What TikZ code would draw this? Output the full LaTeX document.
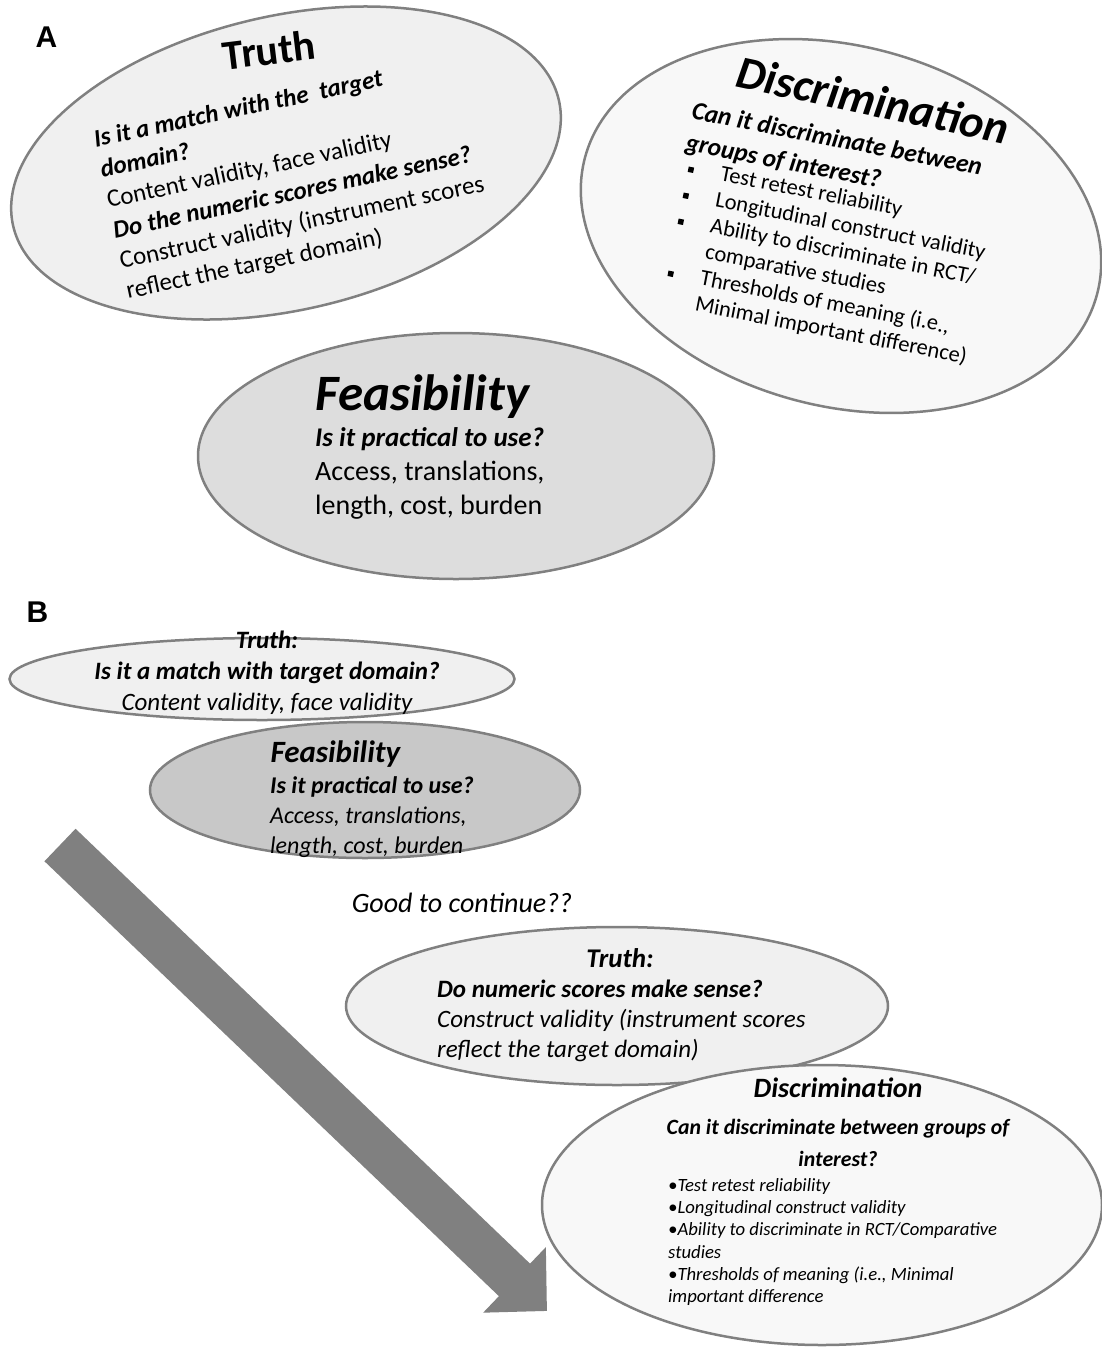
\documentclass[tikz,border=0pt]{standalone}
\usepackage{fontspec}
\setmainfont{Carlito}
\newfontfamily\panelfont{Liberation Sans}
\usetikzlibrary{positioning,shapes.geometric,arrows.meta}

\definecolor{lightfill}{HTML}{F0F0F0}
\definecolor{paperfill}{HTML}{F8F8F8}
\definecolor{midfill}{HTML}{DDDDDD}
\definecolor{darkfill}{HTML}{C8C8C8}
\definecolor{rimgray}{HTML}{808080}

\newcommand{\sqbullet}{\rule[0.25ex]{5.5pt}{5.5pt}}

\begin{document}
\begin{tikzpicture}[x=1pt,y=-1pt,
  bubble/.style={ellipse, draw=rimgray, line width=2.5pt, inner sep=0pt},
  panel/.style={font=\panelfont\fontsize{30}{32}\selectfont\bfseries, anchor=base},
  bodytext/.style={inner sep=0pt, align=left, anchor=north west},
  bigtitle/.style={font=\fontsize{42}{48}\selectfont\bfseries},
  bigital/.style={font=\fontsize{46}{50}\selectfont\bfseries\itshape},
  smalltitle/.style={font=\fontsize{28}{30}\selectfont\bfseries\itshape}
]
\useasboundingbox (0,0) rectangle (1101,1347);

% panel A
\node[panel] (labA) at (46.5,47) {A};
\node[bubble, fill=lightfill, minimum width=560pt, minimum height=294pt, rotate=13] (truthA) at (286,163) {};
\node[bubble, fill=paperfill, minimum width=530pt, minimum height=360pt, rotate=-15] (discA) at (841,226) {};
\node[bubble, fill=midfill, minimum width=516pt, minimum height=246pt] (feasA) at (456,456) {};

\node[bigtitle, rotate=7] (truthAtitle) at (269,50) {Truth};
\node[bodytext, rotate=12, font=\fontsize{25}{31}\selectfont] (truthAbody) at (92,130)
  {{\bfseries\itshape Is it a match with the\ \ target}\\
   {\bfseries\itshape domain?}\\
   Content validity, face validity\\
   {\bfseries\itshape Do the numeric scores make sense?}\\
   Construct validity (instrument scores\\
   reflect the target domain)};

\node[bigital, rotate=-12] (discAtitle) at (873,100) {Discrimination};
\node[bodytext, rotate=-11, font=\fontsize{25.5}{32}\selectfont\bfseries\itshape] (discAask) at (694,101)
  {Can it discriminate between\\ groups of interest?};
\node[bodytext, rotate=-11, font=\fontsize{22.5}{26.5}\selectfont] (discAlist) at (690,159)
  {\makebox[33pt][l]{\sqbullet}Test retest reliability\\
   \makebox[33pt][l]{\sqbullet}Longitudinal construct validity\\
   \makebox[33pt][l]{\sqbullet}Ability to discriminate in RCT/\\
   \hspace*{33pt}comparative studies\\
   \makebox[33pt][l]{\sqbullet}Thresholds of meaning (i.e.,\\
   \hspace*{33pt}Minimal important difference)};

\node[bigital, font=\fontsize{51}{56}\selectfont\bfseries\itshape, anchor=base west] (feasAtitle) at (312,410) {Feasibility};
\node[bodytext, font=\fontsize{28}{34}\selectfont] (feasAbody) at (315,427)
  {{\fontsize{27}{34}\selectfont\bfseries\itshape Is it practical to use?}\\
   Access, translations,\\
   length, cost, burden};

% panel B
\node[panel] (labB) at (37.5,622) {B};
\coordinate (arrowtail) at (60,845);
\coordinate (arrowtip) at (547,1311);
\draw[rimgray, line width=45pt, -{Triangle[width=88pt,length=45pt]}] (arrowtail) -- (arrowtip);

\node[bubble, fill=darkfill, minimum width=430pt, minimum height=136pt] (feasB) at (365,790) {};
\node[bubble, fill=lightfill, minimum width=505pt, minimum height=82pt] (truthB) at (262,679) {};
\node[inner sep=0pt, align=center, font=\fontsize{25}{31}\selectfont\itshape] (truthBtext) at (267,673)
  {\textbf{Truth:}\\ \textbf{Is it a match with target domain?}\\ Content validity, face validity};

\node[smalltitle, font=\fontsize{31}{34}\selectfont\bfseries\itshape, anchor=base west] (feasBtitle) at (267,762) {Feasibility};
\node[bodytext, font=\fontsize{24}{30}\selectfont\itshape] (feasBbody) at (270,776)
  {\textbf{Is it practical to use?}\\ Access, translations,\\ length, cost, burden};

\node[font=\fontsize{28}{30}\selectfont\itshape] (goon) at (462,903) {Good to continue??};

\node[bubble, fill=lightfill, minimum width=542pt, minimum height=158pt] (truthBB) at (617,1006) {};
\node[font=\fontsize{27}{30}\selectfont\bfseries\itshape, anchor=base] (truthBBtitle) at (620,967) {Truth:};
\node[bodytext, font=\fontsize{25}{30}\selectfont\itshape] (truthBBbody) at (437,980)
  {\textbf{Do numeric scores make sense?}\\ Construct validity (instrument scores\\ reflect the target domain)};

\node[bubble, fill=paperfill, minimum width=560pt, minimum height=280pt] (discB) at (822,1205) {};
\node[smalltitle, anchor=base] (discBtitle) at (838,1097) {Discrimination};
\node[inner sep=0pt, align=center, font=\fontsize{21.8}{32}\selectfont\bfseries\itshape, anchor=north] (discBask) at (838,1119)
  {Can it discriminate between groups of\\ interest?};
\node[bodytext, font=\fontsize{18.7}{22.3}\selectfont\itshape] (discBlist) at (668,1178)
  {\textbullet Test retest reliability\\
   \textbullet Longitudinal construct validity\\
   \textbullet Ability to discriminate in RCT/Comparative\\
   studies\\
   \textbullet Thresholds of meaning (i.e., Minimal\\
   important difference};
\end{tikzpicture}
\end{document}
